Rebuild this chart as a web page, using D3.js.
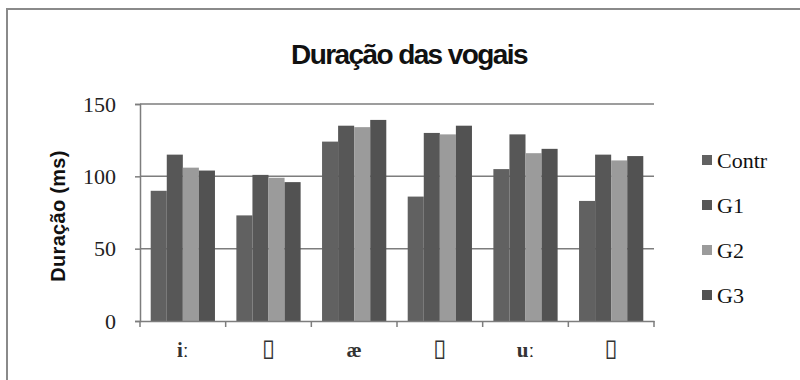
<!DOCTYPE html>
<html>
<head>
<meta charset="utf-8">
<script src="https://cdn.jsdelivr.net/npm/d3@7"></script>
<style>
  html, body { margin: 0; padding: 0; background: #fff; }
  svg { display: block; }
</style>
</head>
<body>
<svg id="chart" width="800" height="380"></svg>
<script>
// Vowel duration (ms) per speaker group
const categories = ["iː", "▯", "æ", "▯", "uː", "▯"];
const seriesNames = ["Contr", "G1", "G2", "G3"];
const contr = [90, 73, 124, 86, 105, 83];
const g1 = [115, 101, 135, 130, 129, 115];
const g2 = [106, 99, 134, 129, 116, 111];
const g3 = [104, 96, 139, 135, 119, 114];
const yTicks = [0, 50, 100, 150];
const seriesColors = ["#616161", "#575757", "#9b9b9b", "#525252"];

const seriesValues = [contr, g1, g2, g3];
const rows = categories.map((c, i) => ({
  idx: i,
  cat: c,
  values: seriesNames.map((s, k) => ({ key: s, k, value: seriesValues[k][i] }))
}));

const svg = d3.select("#chart");

// outer frame
svg.append("rect")
  .attr("x", 7).attr("y", 9)
  .attr("width", 820).attr("height", 400)
  .attr("fill", "#fff")
  .attr("stroke", "#8a8a8a")
  .attr("stroke-width", 2);

const plot = { left: 140, right: 654, top: 104, bottom: 321 };

const x0 = d3.scaleBand()
  .domain(d3.range(categories.length))
  .range([plot.left, plot.right])
  .padding(0);

const x1 = d3.scaleBand()
  .domain(seriesNames)
  .range([x0.bandwidth() * 0.125, x0.bandwidth() * 0.875])
  .padding(0);

const y = d3.scaleLinear().domain([0, 150]).range([plot.bottom, plot.top]);

// gridlines
svg.append("g")
  .selectAll("line")
  .data(yTicks.filter(t => t > 0))
  .join("line")
  .attr("x1", plot.left).attr("x2", plot.right)
  .attr("y1", d => y(d)).attr("y2", d => y(d))
  .attr("stroke", "#7d7d7d")
  .attr("stroke-width", 1.5);

// bars
svg.append("g")
  .selectAll("g")
  .data(rows)
  .join("g")
  .attr("transform", d => `translate(${x0(d.idx)},0)`)
  .selectAll("rect")
  .data(d => d.values)
  .join("rect")
  .attr("x", d => x1(d.key))
  .attr("width", x1.bandwidth())
  .attr("y", d => y(d.value))
  .attr("height", d => y(0) - y(d.value))
  .attr("fill", d => seriesColors[d.k]);

// y axis
const yAxis = svg.append("g")
  .attr("transform", `translate(${plot.left},0)`)
  .attr("font-family", "'Liberation Serif', 'Times New Roman', serif")
  .call(d3.axisLeft(y).tickValues(yTicks).tickSize(5).tickPadding(19));
yAxis.attr("font-family", "'Liberation Serif', 'Times New Roman', serif");
yAxis.select(".domain").attr("stroke", "#7d7d7d").attr("stroke-width", 1.5);
yAxis.selectAll(".tick line").attr("stroke", "#7d7d7d").attr("stroke-width", 1.5);
yAxis.selectAll(".tick text")
  .style("font-family", "'Liberation Serif', 'Times New Roman', serif")
  .attr("font-size", 22)
  .attr("fill", "#222");

// x axis
const xAxis = svg.append("g")
  .attr("transform", `translate(0,${plot.bottom})`)
  .call(d3.axisBottom(x0).tickFormat(() => "").tickSize(0));
xAxis.select(".domain").attr("stroke", "#7d7d7d").attr("stroke-width", 1.5);

// category separators on the x axis
svg.append("g")
  .selectAll("line")
  .data(d3.range(categories.length + 1))
  .join("line")
  .attr("x1", i => i < categories.length ? x0(i) : plot.right)
  .attr("x2", i => i < categories.length ? x0(i) : plot.right)
  .attr("y1", plot.bottom).attr("y2", plot.bottom + 6)
  .attr("stroke", "#7d7d7d")
  .attr("stroke-width", 1.5);

svg.append("g")
  .selectAll("text")
  .data(rows)
  .join("text")
  .attr("x", d => x0(d.idx) + x0.bandwidth() / 2)
  .attr("y", d => d.cat === "▯" ? 356 : 357)
  .attr("text-anchor", "middle")
  .attr("font-family", d => d.cat === "▯" ? "'DejaVu Sans', sans-serif" : "'Liberation Serif', 'DejaVu Serif', serif")
  .attr("font-weight", d => d.cat === "▯" ? "normal" : "bold")
  .attr("font-size", d => d.cat === "▯" ? 24 : 21)
  .attr("fill", "#333")
  .text(d => d.cat);

// title
svg.append("text")
  .attr("x", 409).attr("y", 64)
  .attr("text-anchor", "middle")
  .attr("font-family", "'Liberation Sans', Arial, sans-serif")
  .attr("font-weight", "bold")
  .attr("font-size", 28)
  .attr("letter-spacing", -1.6)
  .attr("fill", "#111")
  .text("Duração das vogais");

// y axis title
svg.append("text")
  .attr("transform", `translate(65,216) rotate(-90)`)
  .attr("text-anchor", "middle")
  .attr("font-family", "'Liberation Sans', Arial, sans-serif")
  .attr("font-weight", "bold")
  .attr("font-size", 20)
  .attr("letter-spacing", 0.3)
  .attr("fill", "#111")
  .text("Duração (ms)");

// legend
const legend = svg.append("g")
  .selectAll("g")
  .data(seriesNames)
  .join("g")
  .attr("transform", (d, i) => `translate(702,${160 + i * 45})`);
legend.append("rect")
  .attr("x", 0).attr("y", -5)
  .attr("width", 10).attr("height", 10)
  .attr("fill", (d, i) => seriesColors[i]);
legend.append("text")
  .attr("x", 15).attr("y", 8)
  .attr("font-family", "'Liberation Serif', 'Times New Roman', serif")
  .attr("font-size", 22)
  .attr("fill", "#111")
  .text(d => d);
</script>
</body>
</html>
